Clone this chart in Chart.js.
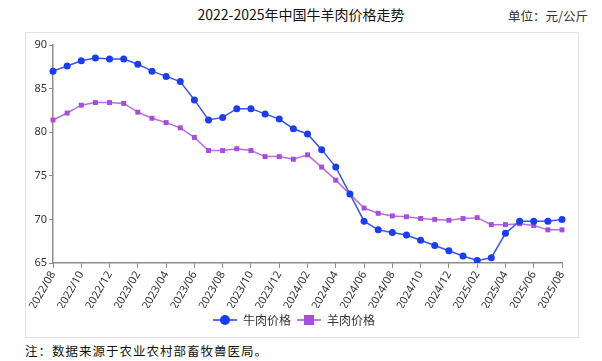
<!DOCTYPE html>
<html>
<head>
<meta charset="utf-8">
<script src="https://cdn.jsdelivr.net/npm/chart.js@4/dist/chart.umd.min.js"></script>
<style>
  html, body { margin: 0; padding: 0; background: #fff; }
  body { width: 602px; height: 361px; position: relative; overflow: hidden;
         font-family: "Noto Sans CJK SC", "Noto Sans", sans-serif; }
  #judul { position: absolute; left: 0; width: 602px; top: 4px; text-align: center;
           font-size: 14px; color: #111; }
  #satuan { position: absolute; right: 14px; top: 6px; font-size: 12.5px; color: #333; }
  #panel { position: absolute; left: 25px; top: 32px; width: 552px; height: 304px;
           border: 1px solid #e2e2e2; }
  #catatan { position: absolute; left: 25px; top: 341px; font-size: 12.5px; color: #111;
             font-family: "Noto Sans CJK SC", serif; letter-spacing: 1px; }
</style>
</head>
<body>
<div id="judul">2022-2025年中国牛羊肉价格走势</div>
<div id="satuan">单位：元/公斤</div>
<div id="panel"><canvas id="lineChart" width="552" height="304"></canvas></div>
<div id="catatan">注：数据来源于农业农村部畜牧兽医局。</div>
<script>
// bulan 2022/08 - 2025/08
const bulan = ['2022/08','2022/09','2022/10','2022/11','2022/12','2023/01','2023/02','2023/03','2023/04','2023/05','2023/06','2023/07',
  '2023/08','2023/09','2023/10','2023/11','2023/12','2024/01','2024/02','2024/03','2024/04','2024/05','2024/06','2024/07',
  '2024/08','2024/09','2024/10','2024/11','2024/12','2025/01','2025/02','2025/03','2025/04','2025/05','2025/06','2025/07','2025/08'];

const hargaSapi = [87.0, 87.6, 88.2, 88.5, 88.4, 88.4, 87.8, 87.0, 86.4, 85.8, 83.7, 81.4,
  81.7, 82.7, 82.7, 82.1, 81.5, 80.4, 79.8, 78.0, 76.0, 72.9, 69.8, 68.8,
  68.5, 68.2, 67.6, 67.0, 66.4, 65.8, 65.3, 65.6, 68.4, 69.8, 69.8, 69.8, 70.0];

const hargaKambing = [81.4, 82.2, 83.1, 83.4, 83.4, 83.3, 82.3, 81.6, 81.1, 80.5, 79.4, 77.9,
  77.9, 78.1, 77.9, 77.2, 77.2, 76.9, 77.4, 76.0, 74.5, 72.9, 71.3, 70.7,
  70.4, 70.3, 70.1, 70.0, 69.9, 70.1, 70.2, 69.4, 69.4, 69.5, 69.3, 68.8, 68.8];

const yTicks = [65, 70, 75, 80, 85, 90];

const BIRU = '#1b3df2';
const UNGU = '#a64ddb';

// ikon legend: garis + marker
function ikonLegend(warna, bentuk) {
    const c = document.createElement('canvas');
    c.width = 24; c.height = 12;
    const g = c.getContext('2d');
    g.strokeStyle = warna; g.lineWidth = 1.5;
    g.beginPath(); g.moveTo(0, 6); g.lineTo(24, 6); g.stroke();
    g.fillStyle = warna;
    if (bentuk === 'circle') {
        g.beginPath(); g.arc(12, 6, 5, 0, Math.PI * 2); g.fill();
    } else {
        g.fillRect(7, 1, 10, 10);
    }
    return c;
}

const ctx = document.getElementById('lineChart').getContext('2d');
new Chart(ctx, {
    type: 'line',
    data: {
        labels: bulan,
        datasets: [
            {
                label: '牛肉价格',
                data: hargaSapi,
                borderColor: '#3557ee',
                backgroundColor: BIRU,
                borderWidth: 1.5,
                pointStyle: 'circle',
                pointRadius: 3.5,
                pointBorderWidth: 0,
                tension: 0
            },
            {
                label: '羊肉价格',
                data: hargaKambing,
                borderColor: '#b86ee0',
                backgroundColor: UNGU,
                borderWidth: 1.5,
                pointStyle: 'rect',
                pointRadius: 3.5,
                pointBorderWidth: 0,
                tension: 0
            }
        ]
    },
    options: {
        responsive: false,
        animation: false,
        layout: { padding: { top: 12, right: 16, left: 0, bottom: 1 } },
        plugins: {
            legend: {
                position: 'bottom',
                labels: {
                    usePointStyle: true,
                    pointStyleWidth: 24,
                    boxHeight: 12,
                    color: '#333',
                    font: { size: 12, family: '"Noto Sans CJK SC", sans-serif' },
                    padding: 6,
                    generateLabels: (chart) => chart.data.datasets.map((ds, i) => ({
                        text: ds.label,
                        pointStyle: ikonLegend(ds.backgroundColor, i === 0 ? 'circle' : 'rect'),
                        fontColor: '#333',
                        datasetIndex: i,
                        hidden: false,
                        lineWidth: 0
                    }))
                }
            },
            tooltip: { enabled: false }
        },
        scales: {
            x: {
                offset: false,
                border: { color: '#8c8c8c', width: 1.5 },
                grid: {
                    drawOnChartArea: false,
                    tickLength: 5,
                    tickColor: (c) => (c.index % 2 ? 'rgba(0,0,0,0)' : '#8c8c8c')
                },
                ticks: {
                    autoSkip: false,
                    minRotation: 60,
                    maxRotation: 60,
                    padding: 1,
                    color: '#333',
                    font: { size: 11, family: '"Noto Sans", sans-serif' },
                    callback: function (v, i) { return i % 2 ? '' : bulan[i]; }
                },
                afterFit: (s) => { s.height = 45; }
            },
            y: {
                min: 65,
                max: 90,
                border: { color: '#8c8c8c', width: 1.5 },
                grid: { drawOnChartArea: false, tickLength: 4, tickColor: '#8c8c8c' },
                afterBuildTicks: (s) => { s.ticks = yTicks.map(v => ({ value: v })); },
                ticks: {
                    color: '#333',
                    padding: 2,
                    font: { size: 11, family: '"Noto Sans", sans-serif' }
                },
                afterFit: (s) => { s.width = 27; }
            }
        }
    }
});
</script>
</body>
</html>
